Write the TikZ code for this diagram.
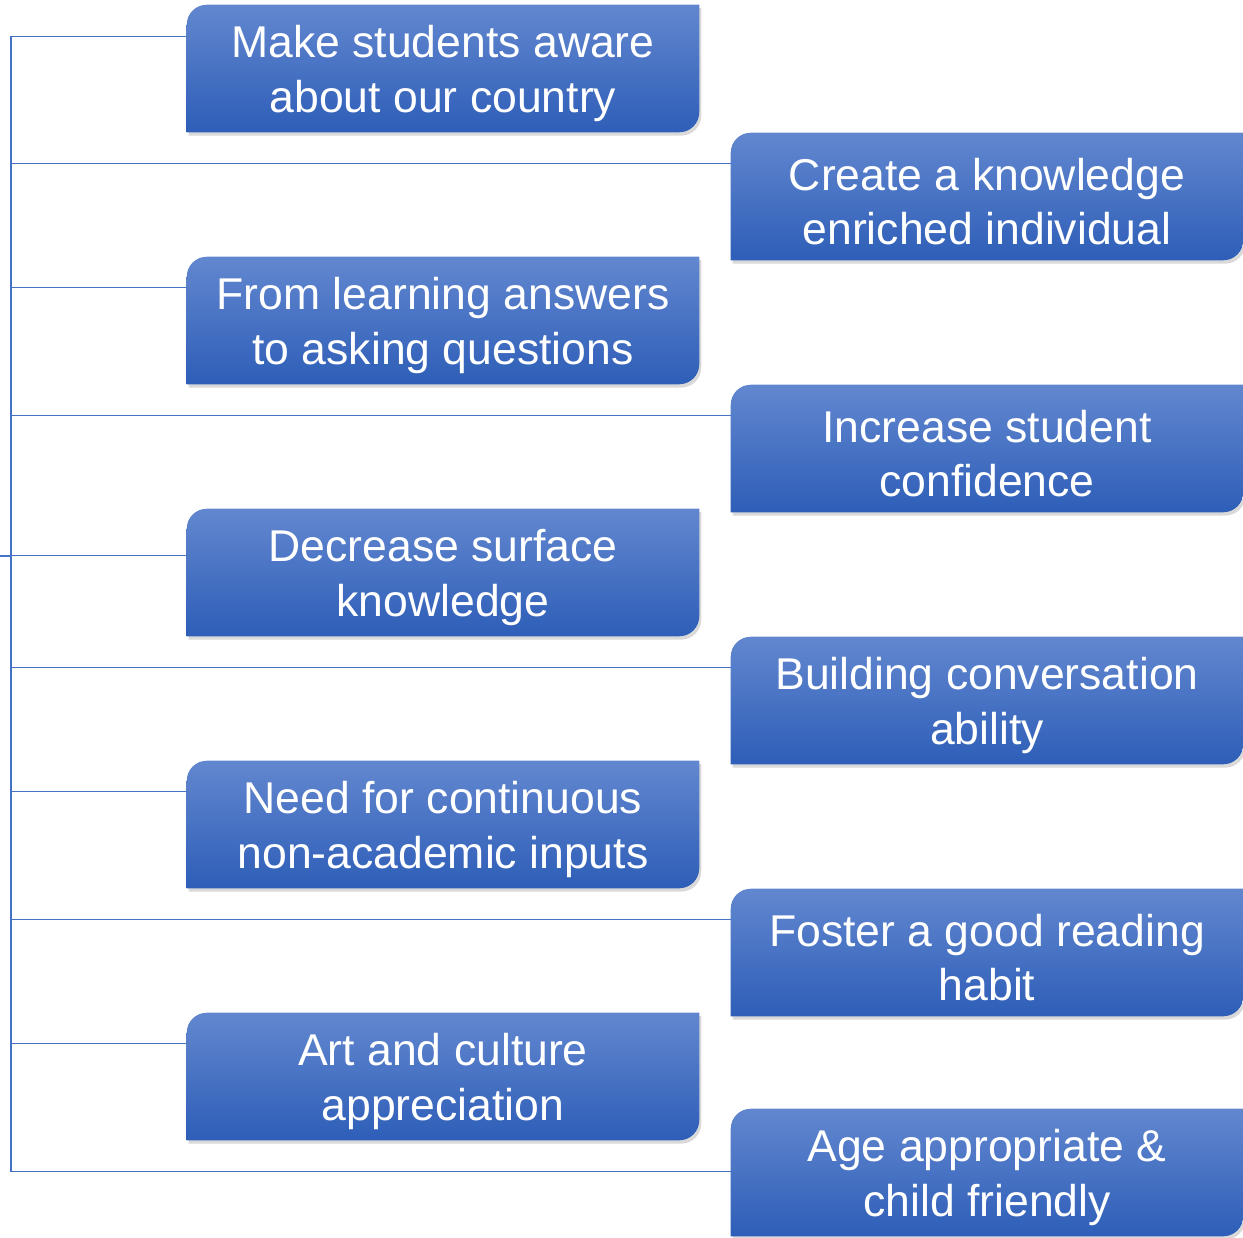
\documentclass[tikz,border=0pt]{standalone}
\usepackage{fontspec}
\setmainfont{Liberation Sans}
\usetikzlibrary{calc,shadows,backgrounds}

\definecolor{linkblue}{RGB}{68,114,196}
\definecolor{boxtop}{RGB}{98,135,207}
\definecolor{boxbottom}{RGB}{46,94,184}

\newcommand{\goalstrut}{\rule{0pt}{32pt}}

\tikzset{
  goal/.style={rectangle, inner sep=0pt, minimum width=384pt, minimum height=95.25pt,
    align=center, text=white, font=\fontsize{33.4}{41}\selectfont},
  goalshape/.style={top color=boxtop, bottom color=boxbottom,
    drop shadow={opacity=0.3, shadow xshift=1.5pt, shadow yshift=-2.5pt}},
  link/.style={draw=linkblue, line width=1pt},
}

\begin{document}
\begin{tikzpicture}[x=0.75pt,y=0.75pt,yscale=-1,xscale=1]
        \useasboundingbox (0,0) rectangle (1243,1238);
        % left column
        \node[goal] (aware) at (443,68.5) {\goalstrut Make students aware\\about our country};
        \node[goal] (asking) at (443,320.5) {\goalstrut From learning answers\\to asking questions};
        \node[goal] (surface) at (443,572.5) {\goalstrut Decrease surface\\knowledge};
        \node[goal] (inputs) at (443,824.5) {\goalstrut Need for continuous\\non-academic inputs};
        \node[goal] (culture) at (443,1076.5) {\goalstrut Art and culture\\appreciation};
        % right column
        \node[goal] (knowledge) at (987,196.5) {\goalstrut Create a knowledge\\enriched individual};
        \node[goal] (confidence) at (987,448.5) {\goalstrut Increase student\\confidence};
        \node[goal] (conversation) at (987,700.5) {\goalstrut Building conversation\\ability};
        \node[goal] (reading) at (987,952.5) {\goalstrut Foster a good reading\\habit};
        \node[goal] (friendly) at (987,1172.5) {\goalstrut Age appropriate \&\\child friendly};
        % boxes, two corners rounded
        \begin{scope}[on background layer]
            \foreach \b in {aware,asking,surface,inputs,culture,knowledge,confidence,conversation,reading,friendly}{
                \shade[goalshape] [rounded corners=15pt] (\b.north west) rectangle (\b.south east)
                    [sharp corners] ($(\b.north east)+(-20,0)$) rectangle ($(\b.north east)+(0,20)$)
                    ($(\b.south west)+(0,-20)$) rectangle ($(\b.south west)+(20,0)$);
            }
        \end{scope}
        % tree lines
        \coordinate (root) at (0,556);
        \coordinate (hub) at (11,556);
        \draw[link, line width=2pt] (root) -- (hub);
        \foreach \b/\d in {aware/32,knowledge/31,asking/31,confidence/31,surface/47,conversation/31,inputs/31,reading/31,culture/31,friendly/63}{
            \draw[link] (hub) |- ($(\b.north west)+(0,\d)$);
        }
    \end{tikzpicture}
\end{document}
